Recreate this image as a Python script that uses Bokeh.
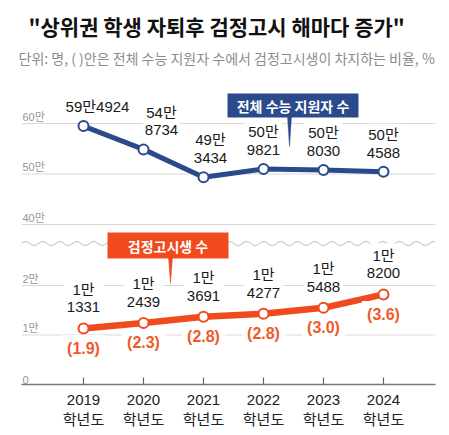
import numpy as np
from bokeh.plotting import figure
from bokeh.models import Range1d, FixedTicker, Span, Title
from bokeh.core.properties import value
from bokeh.embed import file_html
from bokeh.resources import INLINE

# --- data -------------------------------------------------------------
years = ["2019", "2020", "2021", "2022", "2023", "2024"]
year_suffix = "학년도"
total_applicants = [594924, 548734, 493434, 509821, 508030, 504588]   # 전체 수능 지원자 수
ged_students = [11331, 12439, 13691, 14277, 15488, 18200]             # 검정고시생 수
ged_share = [1.9, 2.3, 2.8, 2.8, 3.0, 3.6]                             # 비율, %
upper_ticks = [400000, 500000, 600000]
upper_tick_labels = ["40만", "50만", "60만"]
lower_ticks = [0, 10000, 20000]
lower_tick_labels = ["0", "1만", "2만"]

title_text = '"상위권 학생 자퇴후 검정고시 해마다 증가"'
subtitle_text = "단위: 명, ( )안은 전체 수능 지원자 수에서 검정고시생이 차지하는 비율, %"
total_name = "전체 수능 지원자 수"
ged_name = "검정고시생 수"

# --- styling ----------------------------------------------------------
BLUE = "#2b4a8c"
ORANGE = "#f04a1e"
ORANGE_TXT = "#ee5a2c"
GRID = "#d9d9d9"
NUM_FONT_NAME = "Liberation Sans, Noto Sans CJK KR"
KR_FONT_NAME = "Noto Sans CJK KR"
NUM_FONT = value(NUM_FONT_NAME)
KR_FONT = value(KR_FONT_NAME)

W, H = 449, 435
LEFT, RIGHT, TOP, BOTTOM = 21, 435, 70, 384
X0_PX, X_STEP = 83, 60
LOW_PPU = 49.5 / 10000          # px per person, lower (검정고시) band
UP_PPU = 101 / 200000           # px per person, upper (수능) band
UP_40_PX = 224                  # pixel row of the 40만 line

idx = list(range(len(years)))
x_start = -(X0_PX - LEFT) / X_STEP
x_end = (len(years) - 1) + (RIGHT - (X0_PX + X_STEP * (len(years) - 1))) / X_STEP
low_end = (BOTTOM - TOP) / LOW_PPU
up_start = 400000 - (BOTTOM - UP_40_PX) / UP_PPU
up_end = up_start + (BOTTOM - TOP) / UP_PPU


def px_x(px):
    return (px - X0_PX) / X_STEP


def px_low(py):
    return (BOTTOM - py) / LOW_PPU


def px_up(py):
    return up_start + (BOTTOM - py) / UP_PPU


def man_label(v, sep):
    return f"{v // 10000}만{sep}{v % 10000:04d}"


total_labels = [man_label(v, "" if i == 0 else "\n") for i, v in enumerate(total_applicants)]
ged_labels = [man_label(v, "\n") for v in ged_students]
share_labels = [f"({s:.1f})" for s in ged_share]

p = figure(width=W, height=H, output_backend="svg", toolbar_location=None,
           x_range=Range1d(x_start, x_end), y_range=Range1d(0, low_end),
           y_axis_location=None, title=None,
           min_border_left=LEFT, min_border_right=W - RIGHT,
           min_border_top=TOP, min_border_bottom=H - BOTTOM)
p.extra_y_ranges = {"up": Range1d(up_start, up_end)}
p.outline_line_color = None
p.xgrid.visible = False
p.ygrid.visible = False
p.background_fill_color = "white"
p.border_fill_color = "white"

# titles (first added sits closest to the plot)
p.add_layout(Title(text=subtitle_text, text_font=KR_FONT_NAME, text_font_size="14px",
                   text_font_style="normal", text_color="#8c8c8c", align="left",
                   offset=-3, standoff=5), "above")
p.add_layout(Title(text=title_text, text_font=KR_FONT_NAME, text_font_size="21px",
                   text_font_style="bold", text_color="#111111", align="left",
                   offset=7, standoff=6), "above")

# x axis
ax = p.xaxis[0]
ax.ticker = FixedTicker(ticks=idx)
ax.major_label_overrides = {i: f"{y}\n{year_suffix}" for i, y in zip(idx, years)}
ax.major_label_text_font = NUM_FONT_NAME
ax.major_label_text_font_size = "15px"
ax.major_label_text_color = "#222222"
ax.major_label_standoff = 6
ax.major_tick_in = 7
ax.major_tick_out = 0
ax.major_tick_line_color = "#666666"
ax.major_tick_line_width = 1.2
ax.minor_tick_line_color = None
ax.axis_line_color = "#777777"
ax.axis_line_width = 1.5

# grid lines for both bands
for t in lower_ticks[1:]:
    p.add_layout(Span(location=t, dimension="width", line_color=GRID, line_width=1, level="underlay"))
for t in upper_ticks:
    p.add_layout(Span(location=t, dimension="width", line_color=GRID, line_width=1,
                      level="underlay", y_range_name="up"))

# y tick labels sitting on their lines
p.text(x=[x_start] * len(lower_ticks), y=lower_ticks, text=lower_tick_labels,
       x_offset=1, y_offset=-1, text_baseline="bottom", text_align="left",
       text_font=NUM_FONT, text_font_size="11px", text_color="#959595")
p.text(x=[x_start] * len(upper_ticks), y=upper_ticks, text=upper_tick_labels,
       x_offset=1, y_offset=-1, text_baseline="bottom", text_align="left",
       text_font=NUM_FONT, text_font_size="11px", text_color="#959595", y_range_name="up")

# wavy break between the two bands
wx = np.linspace(x_start, x_end, 600)
wy = px_low(243) + (2 / LOW_PPU) * np.sin(2 * np.pi * (wx - x_start) * X_STEP / 17.0)
p.line(wx, wy, line_color="#cfcfcf", line_width=1.3)

# series lines and markers
p.line(idx, total_applicants, line_color=BLUE, line_width=5, y_range_name="up")
p.scatter(idx, total_applicants, marker="circle", size=10, fill_color="white",
          line_color=BLUE, line_width=2, y_range_name="up")
p.line(idx, ged_students, line_color=ORANGE, line_width=6.5)
p.scatter(idx, ged_students, marker="circle", size=10, fill_color="white",
          line_color=ORANGE, line_width=2)

# value labels
blue_dx = [14, 18, 7, 0, 0, 0]
p.text(x=idx, y=total_applicants, text=total_labels, x_offset=blue_dx, y_offset=-9,
       text_align="center", text_baseline="bottom", text_line_height=1.05,
       text_font=NUM_FONT, text_font_size="15px", text_color="#1a1a1a",
       background_fill_color="white", padding=2, y_range_name="up")
p.text(x=idx, y=ged_students, text=ged_labels, y_offset=-10,
       text_align="center", text_baseline="bottom", text_line_height=1.05,
       text_font=NUM_FONT, text_font_size="15px", text_color="#1a1a1a",
       background_fill_color="white", padding=3)
p.text(x=idx, y=ged_students, text=share_labels, y_offset=20,
       text_align="center", text_baseline="middle",
       text_font=NUM_FONT, text_font_size="16px", text_font_style="bold",
       text_color=ORANGE_TXT, background_fill_color="white", padding=5)

# series name callouts
bx, by = px_x(292.5), px_up(105)
p.patch([px_x(287), px_x(291), px_x(289)], [px_up(116), px_up(116), px_up(146)],
        fill_color=BLUE, line_color=BLUE, line_width=0.5, y_range_name="up")
p.rect(x=[bx], y=[by], width=131, height=24, width_units="screen", height_units="screen",
       fill_color=BLUE, line_color=None, y_range_name="up")
p.text(x=[bx], y=[by], text=[total_name], text_align="center", text_baseline="middle",
       text_font=KR_FONT, text_font_size="14px", text_font_style="bold",
       text_color="white", y_range_name="up")

ox, oy = px_x(167.5), px_low(245)
p.patch([px_x(168), px_x(172), px_x(170)], [px_low(257), px_low(257), px_low(283)],
        fill_color=ORANGE, line_color=ORANGE, line_width=0.5)
p.rect(x=[ox], y=[oy], width=121, height=26, width_units="screen", height_units="screen",
       fill_color=ORANGE, line_color=None)
p.text(x=[ox], y=[oy], text=[ged_name], text_align="center", text_baseline="middle",
       text_font=KR_FONT, text_font_size="14px", text_font_style="bold", text_color="white")

open("out.html", "w").write(file_html(p, INLINE))
